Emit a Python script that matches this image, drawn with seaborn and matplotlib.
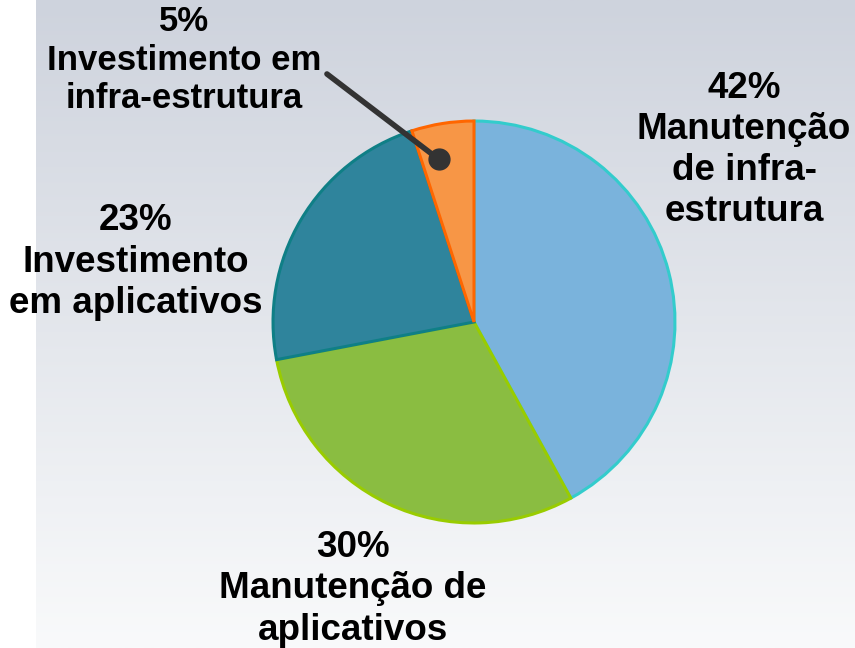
import numpy as np
import matplotlib
matplotlib.use("Agg")
import matplotlib.pyplot as plt
import seaborn as sns

# data
categories = ["Manutenção\nde infra-\nestrutura", "Manutenção de\naplicativos",
              "Investimento\nem aplicativos", "Investimento em\ninfra-estrutura"]
shares = [42, 30, 23, 5]
fill_colors = ["#7ab3dc", "#8abd41", "#2f849c", "#f79646"]
edge_colors = ["#33cccc", "#99cc00", "#0f7f86", "#ff6600"]

sns.set_style("white")
plt.rcParams["font.family"] = ["Liberation Sans", "DejaVu Sans"]

W, H = 855, 648
fig = plt.figure(figsize=(W / 100, H / 100), dpi=100)
fig.patch.set_facecolor("white")

# gradient background (white strip on the left)
bg = fig.add_axes([36 / W, 0, 1 - 36 / W, 1])
top = np.array([206, 211, 221]) / 255
bot = np.array([249, 250, 251]) / 255
t = np.linspace(0, 1, 256)[:, None]
grad = top[None, :] * (1 - t) + bot[None, :] * t
bg.imshow(grad[:, None, :], aspect="auto", extent=[0, 1, 0, 1])
bg.set_axis_off()

# pie axes
cx, cy, r = 474, 322, 205
ax = fig.add_axes([(cx - r) / W, (H - cy - r) / H, 2 * r / W, 2 * r / H])
wedges, _ = ax.pie(shares, colors=fill_colors, startangle=90, counterclock=False,
                   radius=1, wedgeprops=dict(linewidth=2.2))
for w, ec in zip(wedges, edge_colors):
    w.set_edgecolor(ec)
ax.set_xlim(-1.02, 1.02)
ax.set_ylim(-1.02, 1.02)
ax.set_axis_off()

# labels (pixel positions of text block centres)
label_pos = [(744, 150), (353, 589), (136, 262), (184, 60)]
label_size = [26.5, 26.5, 26.5, 25]
for v, name, (px, py), fs in zip(shares, categories, label_pos, label_size):
    fig.text(px / W, 1 - py / H, f"{v}%\n{name}", ha="center", va="center",
             fontsize=fs, fontweight="bold", color="black", linespacing=1.23)

# leader line for the small slice
def to_data(px, py):
    return (px - cx) / r, (cy - py) / r

x0, y0 = to_data(324, 69)
x1, y1 = to_data(438, 156)
ax.plot([x0, x1], [y0, y1], color="#333333", lw=4, clip_on=False,
        solid_capstyle="round")
ax.plot([x1], [y1], "o", color="#333333", ms=15, clip_on=False)

fig.savefig("out.png", dpi=100)
